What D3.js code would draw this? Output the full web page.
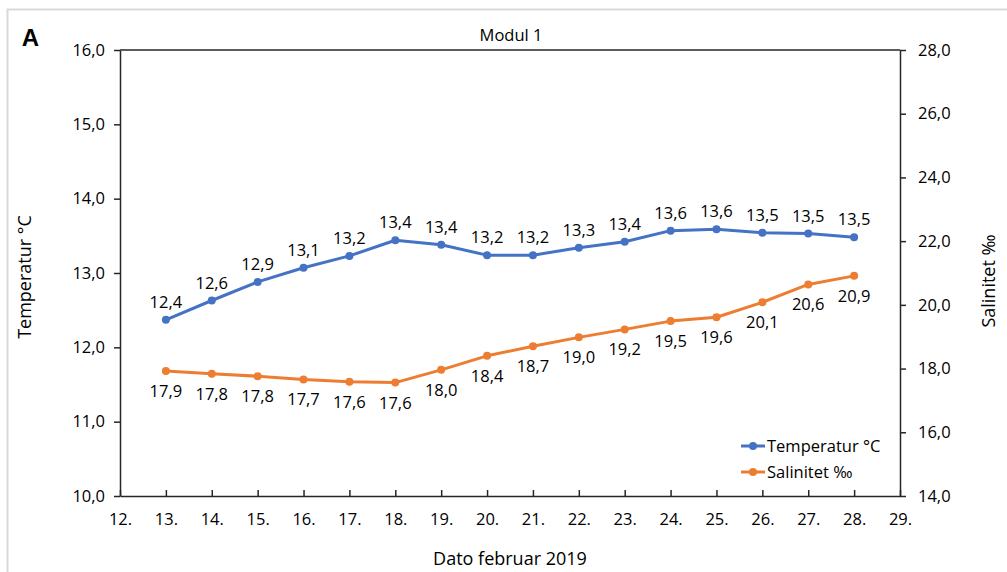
<!DOCTYPE html>
<html>
<head>
<meta charset="utf-8">
<script src="https://cdn.jsdelivr.net/npm/d3@7"></script>
<style>
  body { margin: 0; background: #fff; }
  text { font-family: "Open Sans", sans-serif; fill: #000; }
</style>
</head>
<body>
<div id="chart"></div>
<script>
// data
var days = [13, 14, 15, 16, 17, 18, 19, 20, 21, 22, 23, 24, 25, 26, 27, 28];
var temperatur = [12.37, 12.63, 12.88, 13.07, 13.23, 13.44, 13.38, 13.24, 13.24, 13.34, 13.42, 13.57, 13.59, 13.54, 13.53, 13.48];
var salinitet = [17.92, 17.84, 17.76, 17.66, 17.59, 17.56, 17.96, 18.40, 18.70, 18.98, 19.23, 19.49, 19.61, 20.08, 20.64, 20.91];
var xTicks = d3.range(12, 30);
var leftTicks = [10, 11, 12, 13, 14, 15, 16];
var rightTicks = [14, 16, 18, 20, 22, 24, 26, 28];

var W = 1007, H = 572;
var margin = {top: 50, right: 107, bottom: 76, left: 120},
    width = W - margin.left - margin.right,
    height = H - margin.top - margin.bottom;

var blue = "#4472C4", orange = "#ED7D31";
var fmt = d3.formatLocale({decimal: ",", thousands: ".", grouping: [3], currency: ["", ""]}).format(".1f");
var numSize = "16.5px";

var svg = d3.select("#chart").append("svg")
    .attr("width", W).attr("height", H);

// light outer frame
svg.append("rect")
    .attr("x", 7.5).attr("y", 9.5)
    .attr("width", W + 10).attr("height", H + 10)
    .attr("fill", "none").attr("stroke", "#d9d9d9").attr("stroke-width", 2);

var g = svg.append("g")
    .attr("transform", "translate(" + margin.left + "," + margin.top + ")");

var x = d3.scaleLinear().domain([12, 29]).range([0, width]);
var yL = d3.scaleLinear().domain([10, 16]).range([height, 0]);
var yR = d3.scaleLinear().domain([14, 28]).range([height, 0]);

// plot box top edge
g.append("line")
    .attr("x1", 0).attr("x2", width).attr("y1", 0).attr("y2", 0)
    .attr("stroke", "#262626").attr("stroke-width", 1.5);

// axes
var ax = g.append("g")
    .attr("transform", "translate(0," + height + ")")
    .call(d3.axisBottom(x).tickValues(xTicks).tickFormat(function(d) { return d + "."; })
      .tickSizeInner(-6).tickSizeOuter(0).tickPadding(17));
var ayl = g.append("g")
    .call(d3.axisLeft(yL).tickValues(leftTicks).tickFormat(fmt)
      .tickSizeInner(6).tickSizeOuter(0).tickPadding(9));
var ayr = g.append("g")
    .attr("transform", "translate(" + width + ",0)")
    .call(d3.axisRight(yR).tickValues(rightTicks).tickFormat(fmt)
      .tickSizeInner(6).tickSizeOuter(0).tickPadding(12));

[ax, ayl, ayr].forEach(function(a) {
  a.selectAll("path, line").attr("stroke", "#262626").attr("stroke-width", 1.5);
  a.selectAll("text").attr("font-size", numSize).style("font-family", '"Open Sans", sans-serif').attr("fill", "#000");
});

// lines
var lineT = d3.line()
    .x(function(d, i) { return x(days[i]); })
    .y(function(d) { return yL(d); });
var lineS = d3.line()
    .x(function(d, i) { return x(days[i]); })
    .y(function(d) { return yR(d); });

g.append("path").datum(temperatur)
    .attr("fill", "none").attr("stroke", blue).attr("stroke-width", 3)
    .attr("stroke-linejoin", "round").attr("d", lineT);
g.append("path").datum(salinitet)
    .attr("fill", "none").attr("stroke", orange).attr("stroke-width", 3)
    .attr("stroke-linejoin", "round").attr("d", lineS);

g.selectAll(".ptT").data(temperatur).enter().append("circle")
    .attr("cx", function(d, i) { return x(days[i]); })
    .attr("cy", function(d) { return yL(d); })
    .attr("r", 4).attr("fill", blue);
g.selectAll(".ptS").data(salinitet).enter().append("circle")
    .attr("cx", function(d, i) { return x(days[i]); })
    .attr("cy", function(d) { return yR(d); })
    .attr("r", 4).attr("fill", orange);

// data labels
g.selectAll(".lblT").data(temperatur).enter().append("text")
    .attr("x", function(d, i) { return x(days[i]); })
    .attr("y", function(d) { return yL(d) - 12; })
    .attr("text-anchor", "middle").attr("font-size", numSize)
    .text(function(d) { return fmt(d); });
g.selectAll(".lblS").data(salinitet).enter().append("text")
    .attr("x", function(d, i) { return x(days[i]); })
    .attr("y", function(d) { return yR(d) + 26; })
    .attr("text-anchor", "middle").attr("font-size", numSize)
    .text(function(d) { return fmt(d); });

// titles
svg.append("text").attr("x", 30.5).attr("y", 46)
    .attr("text-anchor", "middle").attr("font-size", "24px").attr("font-weight", "bold")
    .style("font-family", '"Liberation Sans", Arial, sans-serif')
    .text("A");
svg.append("text").attr("x", 511).attr("y", 41)
    .attr("text-anchor", "middle").attr("font-size", "16.5px")
    .text("Modul 1");
svg.append("text").attr("x", 510).attr("y", 565)
    .attr("text-anchor", "middle").attr("font-size", "18px")
    .text("Dato februar 2019");
svg.append("text")
    .attr("transform", "translate(31," + (margin.top + height / 2 + 4) + ") rotate(-90)")
    .attr("text-anchor", "middle").attr("font-size", "18px")
    .text("Temperatur °C");
svg.append("text")
    .attr("transform", "translate(995," + (margin.top + height / 2 + 8) + ") rotate(-90)")
    .attr("text-anchor", "middle").attr("font-size", "18px")
    .text("Salinitet ‰");

// legend
var legend = [{name: "Temperatur °C", color: blue}, {name: "Salinitet ‰", color: orange}];
var lg = svg.selectAll(".lg").data(legend).enter().append("g")
    .attr("transform", function(d, i) { return "translate(741," + (446 + i * 26) + ")"; });
lg.append("line").attr("x1", 0).attr("x2", 24).attr("y1", 0).attr("y2", 0)
    .attr("stroke", function(d) { return d.color; }).attr("stroke-width", 3);
lg.append("circle").attr("cx", 12).attr("cy", 0).attr("r", 4)
    .attr("fill", function(d) { return d.color; });
lg.append("text").attr("x", 26).attr("y", 6).attr("font-size", "16.5px")
    .text(function(d) { return d.name; });
</script>
</body>
</html>
